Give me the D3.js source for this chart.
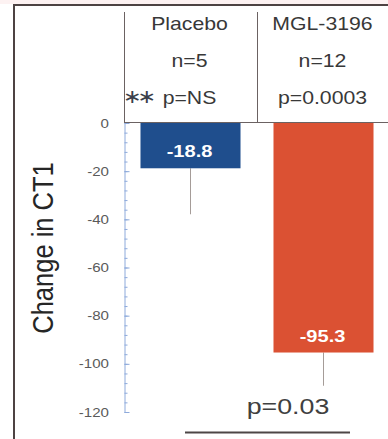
<!DOCTYPE html>
<html>
<head>
<meta charset="utf-8">
<script src="https://cdn.jsdelivr.net/npm/d3@7"></script>
<style>
  html, body { margin: 0; padding: 0; background: #ffffff; }
  svg { display: block; font-family: "Liberation Sans", Arial, sans-serif; }
</style>
</head>
<body>
<svg id="chart" width="388" height="439"></svg>
<script>
// Change in CT1 by treatment group
const groups = ["Placebo", "MGL-3196"];
const nLabels = ["n=5", "n=12"];
const pLabels = ["p=NS", "p=0.0003"];
const changes = [-18.8, -95.3];
const errorLow = [-37.9, -109.1];
const barColors = ["#1f4e8d", "#db5133"];
const majorTicks = [0, -20, -40, -60, -80, -100, -120];
const minorTicks = d3.range(0, -121, -4);
const comparison = "p=0.03";

const W = 388, H = 439;
const STRETCH = 1.18; // horizontal text widening used throughout the figure
const svg = d3.select("#chart");

const y = d3.scaleLinear().domain([0, -120]).range([123, 412]);
const x = d3.scaleBand().domain(groups).range([124, 390]).paddingInner(0.248).paddingOuter(0.124);
const colX = d3.scaleBand().domain(groups).range([124, 390]);

// helper: text widened horizontally around its anchor point
function wideText(sel, tx, ty, rot) {
  return sel.attr("transform", `translate(${tx},${ty}) scale(${STRETCH},1)` + (rot ? ` rotate(${rot})` : ""));
}

// page tint and outer frame
svg.append("rect").attr("x", 0).attr("y", 0).attr("width", W).attr("height", 4).attr("fill", "#fdf2f2");
svg.append("line").attr("x1", 13).attr("x2", W).attr("y1", 5).attr("y2", 5)
  .attr("stroke", "#4d4343").attr("stroke-width", 2);
svg.append("line").attr("x1", 14).attr("x2", 14).attr("y1", 4).attr("y2", H)
  .attr("stroke", "#4d4343").attr("stroke-width", 2);

// header table
const tableTop = 12;
const grid = svg.append("g").attr("stroke", "#6b6262").attr("stroke-width", 1);
grid.append("line").attr("x1", 124.5).attr("x2", 124.5).attr("y1", tableTop).attr("y2", y(0));
grid.append("line").attr("x1", colX("MGL-3196") + 0.5).attr("x2", colX("MGL-3196") + 0.5).attr("y1", tableTop).attr("y2", y(0));

const header = svg.append("g").attr("fill", "#383838").attr("font-size", 18).attr("text-anchor", "middle");
groups.forEach((g, i) => {
  const cx = colX(g) + colX.bandwidth() / 2 - 1;
  wideText(header.append("text").text(g), cx, 29.5);
  wideText(header.append("text").text(nLabels[i]), cx, 67);
  wideText(header.append("text").text(pLabels[i]), cx, 104);
});

// significance marker before the placebo p-value: two tight asterisks
const starCenters = [132.5, 146.8];
const stars = header.append("text").attr("text-anchor", "start").attr("font-size", 19)
  .attr("fill", "#3a3f4a").attr("font-family", "DejaVu Sans, sans-serif").text("∗");
const adv = stars.node().getComputedTextLength();
const gap = (starCenters[1] - starCenters[0]) / STRETCH;
stars.text("∗∗").attr("letter-spacing", gap - adv);
wideText(stars, starCenters[0] - (adv / 2) * STRETCH, 102.5);

// y axis: light blue spine with major and minor ticks on the right
const axisColor = "#8eaadb";
const minorAxis = svg.append("g").attr("transform", "translate(124.5,0)")
  .call(d3.axisRight(y).tickValues(minorTicks).tickSize(3).tickSizeOuter(0).tickFormat(""));
const majorAxis = svg.append("g").attr("transform", "translate(124.5,0)")
  .call(d3.axisRight(y).tickValues(majorTicks).tickSize(5).tickSizeOuter(0).tickFormat(""));
[minorAxis, majorAxis].forEach(a => {
  a.selectAll("path, line").attr("stroke", axisColor);
});
majorAxis.select(".domain").remove();

// tick labels on the left side
const labelAxis = svg.append("g").attr("transform", "translate(124,0)")
  .call(d3.axisLeft(y).tickValues(majorTicks).tickSize(0).tickPadding(15).tickFormat(d => String(d)));
labelAxis.select(".domain").remove();
labelAxis.selectAll("text")
  .attr("fill", "#5a5a5a").attr("font-size", 12.8)
  .attr("font-family", "Liberation Sans, Arial, sans-serif")
  .attr("x", null)
  .attr("transform", `translate(-15,0) scale(${STRETCH},1)`);

// zero line closing the header
svg.append("line").attr("x1", 124).attr("x2", W).attr("y1", y(0) - 0.5).attr("y2", y(0) - 0.5)
  .attr("stroke", "#6b6262").attr("stroke-width", 1);

// error whiskers
svg.append("g").selectAll("line").data(groups).join("line")
  .attr("x1", d => x(d) + x.bandwidth() / 2).attr("x2", d => x(d) + x.bandwidth() / 2)
  .attr("y1", (d, i) => y(changes[i])).attr("y2", (d, i) => y(errorLow[i]))
  .attr("stroke", "#a59c98").attr("stroke-width", 1);

// bars
svg.append("g").selectAll("rect").data(groups).join("rect")
  .attr("x", d => x(d)).attr("width", x.bandwidth())
  .attr("y", y(0)).attr("height", (d, i) => y(changes[i]) - y(0))
  .attr("fill", (d, i) => barColors[i]);

// value labels inside the bar ends
const vals = svg.append("g").attr("fill", "#ffffff").attr("font-weight", "bold")
  .attr("font-size", 17).attr("text-anchor", "middle");
groups.forEach((g, i) => {
  wideText(vals.append("text").text(changes[i].toFixed(1)), x(g) + x.bandwidth() / 2 - 1, y(changes[i]) - 11);
});

// y axis title
wideText(svg.append("text").attr("text-anchor", "middle").attr("font-size", 25.5)
  .attr("fill", "#262626").text("Change in CT1"), 53, 248, -90);

// between-group comparison
wideText(svg.append("text").attr("text-anchor", "middle").attr("font-size", 22.7)
  .attr("fill", "#404040").text(comparison), 288, 414);
svg.append("line").attr("x1", 185).attr("x2", 350).attr("y1", 432.5).attr("y2", 432.5)
  .attr("stroke", "#4d4646").attr("stroke-width", 2);
</script>
</body>
</html>
